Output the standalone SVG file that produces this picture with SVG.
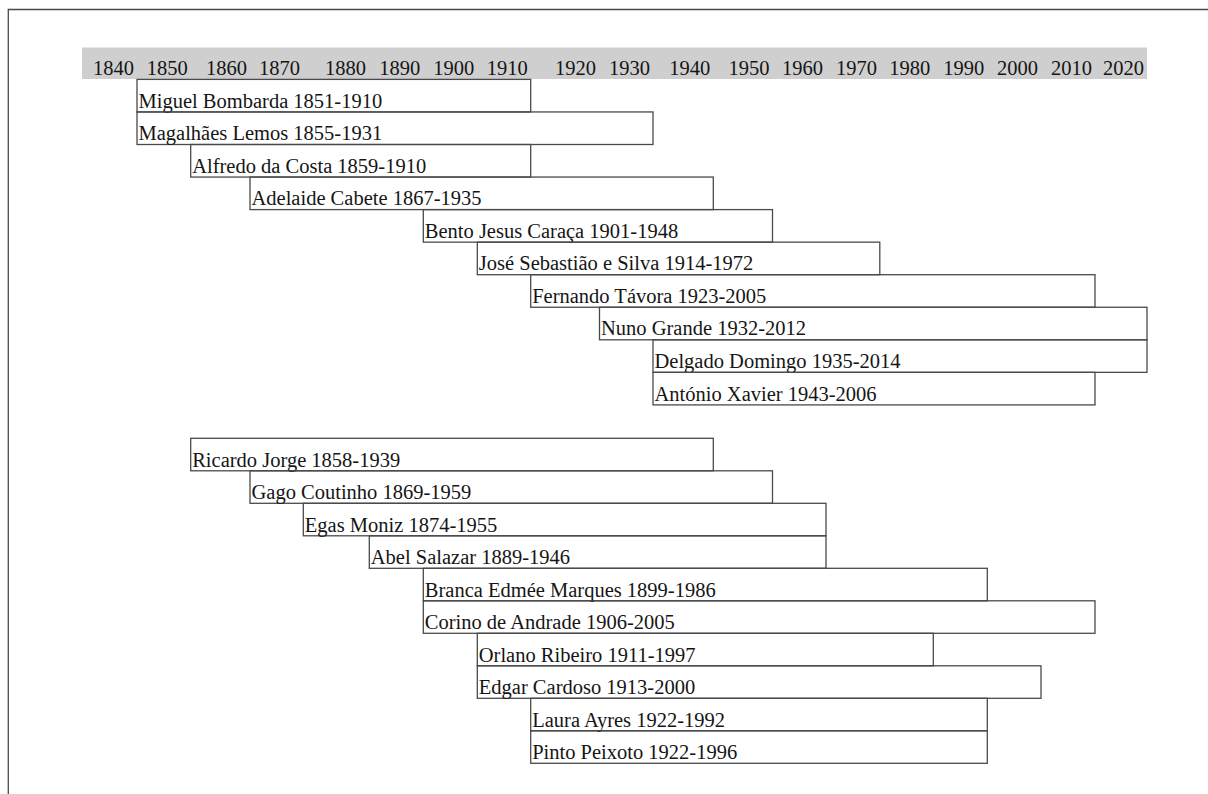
<svg xmlns="http://www.w3.org/2000/svg" width="1208" height="794" viewBox="0 0 1208 794">
<style>
.bar{fill:none;stroke:#4a4a4a;stroke-width:1.3}
.t{font-family:"Liberation Serif","Times New Roman",serif;font-size:20.5px;fill:#151515}
.yr{font-family:"Liberation Serif","Times New Roman",serif;font-size:20.5px;fill:#151515;text-anchor:end}
.frame{stroke:#4a4a4a;stroke-width:1.3;fill:none}
</style>
<rect width="1208" height="794" fill="#ffffff"/>
<g id="frame">
<path class="frame" d="M8.3 794 V9.5 H1208"/>
</g>
<g id="axis">
<rect x="82" y="47.5" width="1065" height="31.5" fill="#cfcfcf"/>
<text class="yr" x="134" y="75">1840</text>
<text class="yr" x="187.7" y="75">1850</text>
<text class="yr" x="247" y="75">1860</text>
<text class="yr" x="300" y="75">1870</text>
<text class="yr" x="366" y="75">1880</text>
<text class="yr" x="420.3" y="75">1890</text>
<text class="yr" x="474.3" y="75">1900</text>
<text class="yr" x="527.7" y="75">1910</text>
<text class="yr" x="596" y="75">1920</text>
<text class="yr" x="650" y="75">1930</text>
<text class="yr" x="710.3" y="75">1940</text>
<text class="yr" x="769.5" y="75">1950</text>
<text class="yr" x="823" y="75">1960</text>
<text class="yr" x="877" y="75">1970</text>
<text class="yr" x="930.3" y="75">1980</text>
<text class="yr" x="984.3" y="75">1990</text>
<text class="yr" x="1038" y="75">2000</text>
<text class="yr" x="1092" y="75">2010</text>
<text class="yr" x="1144" y="75">2020</text>
</g>
<g id="connectors"></g>
<g id="miguel-bombarda"><rect class="bar" x="137" y="79.4" width="393.7" height="32.55"/><text class="t" x="138.5" y="107.6">Miguel Bombarda 1851-1910</text></g>
<g id="magalhaes-lemos"><rect class="bar" x="137" y="111.95" width="516" height="32.55"/><text class="t" x="138.5" y="140.15">Magalhães Lemos 1855-1931</text></g>
<g id="alfredo-da-costa"><rect class="bar" x="190.7" y="144.5" width="340" height="32.55"/><text class="t" x="192.2" y="172.7">Alfredo da Costa 1859-1910</text></g>
<g id="adelaide-cabete"><rect class="bar" x="250" y="177.05" width="463.3" height="32.55"/><text class="t" x="251.5" y="205.25">Adelaide Cabete  1867-1935</text></g>
<g id="bento-jesus-caraca"><rect class="bar" x="423.3" y="209.6" width="349.2" height="32.55"/><text class="t" x="424.8" y="237.8">Bento Jesus Caraça 1901-1948</text></g>
<g id="jose-sebastiao-e-silva"><rect class="bar" x="477.3" y="242.15" width="402.5" height="32.55"/><text class="t" x="478.8" y="270.35">José Sebastião e Silva 1914-1972</text></g>
<g id="fernando-tavora"><rect class="bar" x="530.7" y="274.7" width="564.3" height="32.55"/><text class="t" x="532.2" y="302.9">Fernando Távora 1923-2005</text></g>
<g id="nuno-grande"><rect class="bar" x="599.5" y="307.25" width="547.5" height="32.55"/><text class="t" x="601" y="335.45">Nuno Grande 1932-2012</text></g>
<g id="delgado-domingo"><rect class="bar" x="653" y="339.8" width="494" height="32.55"/><text class="t" x="654.5" y="368">Delgado Domingo 1935-2014</text></g>
<g id="antonio-xavier"><rect class="bar" x="653" y="372.35" width="442" height="32.55"/><text class="t" x="654.5" y="400.55">António Xavier 1943-2006</text></g>
<g id="ricardo-jorge"><rect class="bar" x="190.7" y="438.3" width="522.6" height="32.5"/><text class="t" x="192.2" y="466.5">Ricardo Jorge 1858-1939</text></g>
<g id="gago-coutinho"><rect class="bar" x="250" y="470.8" width="522.5" height="32.5"/><text class="t" x="251.5" y="499">Gago Coutinho 1869-1959</text></g>
<g id="egas-moniz"><rect class="bar" x="303.3" y="503.3" width="522.7" height="32.5"/><text class="t" x="304.8" y="531.5">Egas Moniz  1874-1955</text></g>
<g id="abel-salazar"><rect class="bar" x="369.3" y="535.8" width="456.7" height="32.5"/><text class="t" x="370.8" y="564">Abel Salazar 1889-1946</text></g>
<g id="branca-edmee-marques"><rect class="bar" x="423.3" y="568.3" width="564" height="32.5"/><text class="t" x="424.8" y="596.5">Branca Edmée Marques 1899-1986</text></g>
<g id="corino-de-andrade"><rect class="bar" x="423.3" y="600.8" width="671.7" height="32.5"/><text class="t" x="424.8" y="629">Corino de Andrade 1906-2005</text></g>
<g id="orlano-ribeiro"><rect class="bar" x="477.3" y="633.3" width="456" height="32.5"/><text class="t" x="478.8" y="661.5">Orlano Ribeiro 1911-1997</text></g>
<g id="edgar-cardoso"><rect class="bar" x="477.3" y="665.8" width="563.7" height="32.5"/><text class="t" x="478.8" y="694">Edgar Cardoso 1913-2000</text></g>
<g id="laura-ayres"><rect class="bar" x="530.7" y="698.3" width="456.6" height="32.5"/><text class="t" x="532.2" y="726.5">Laura Ayres 1922-1992</text></g>
<g id="pinto-peixoto"><rect class="bar" x="530.7" y="730.8" width="456.6" height="32.5"/><text class="t" x="532.2" y="759">Pinto Peixoto 1922-1996</text></g>
</svg>
